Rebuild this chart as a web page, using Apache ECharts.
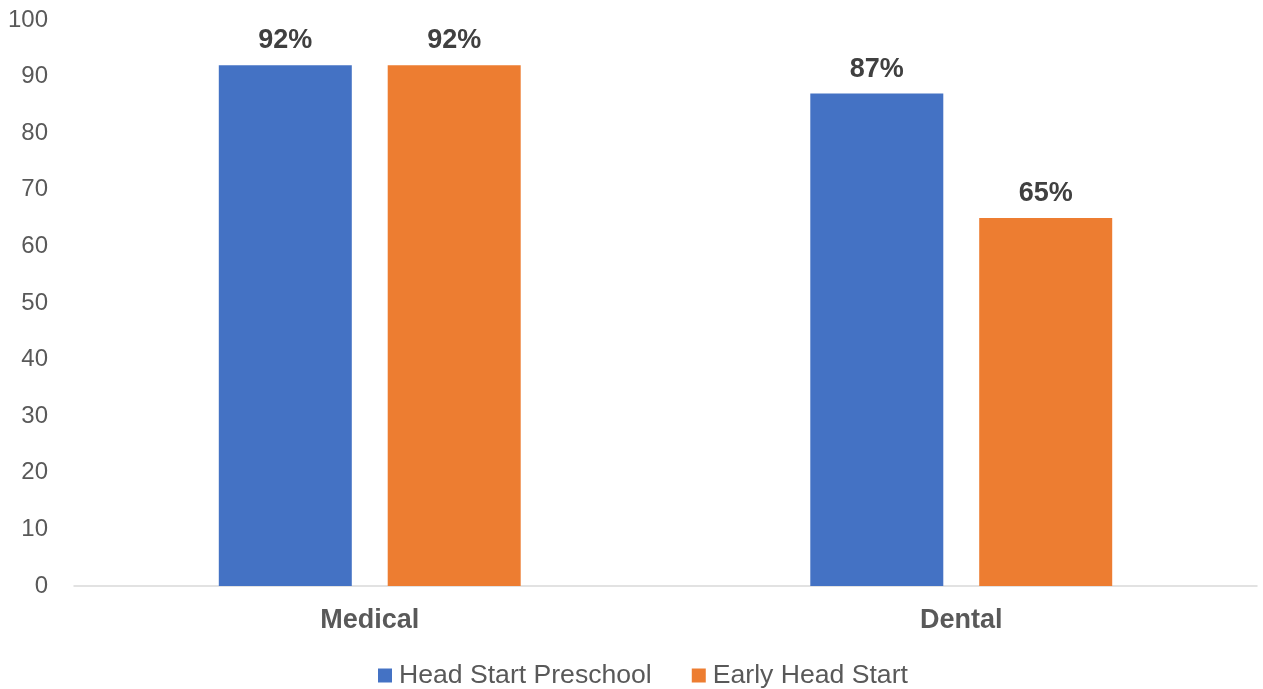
<!DOCTYPE html>
<html>
<head>
<meta charset="utf-8">
<script src="https://cdn.jsdelivr.net/npm/echarts@6/dist/echarts.min.js"></script>
<style>html,body{margin:0;padding:0;background:#fff;}#c{width:1263px;height:689px;}</style>
</head>
<body>
<div id="c"></div>
<script>
var categories = ['Medical', 'Dental'];
var headStartPreschool = [92, 87];
var earlyHeadStart = [92, 65];
var seriesNames = ['Head Start Preschool', 'Early Head Start'];

var chart = echarts.init(document.getElementById('c'), null, {renderer: 'canvas'});
var font = 'Liberation Sans, Arial, sans-serif';
var labelCfg = {
  show: true, position: 'top', distance: 11,
  formatter: function (p) { return p.value + '%'; },
  fontFamily: font, fontSize: 27, fontWeight: 'bold', color: '#404040'
};
chart.setOption({
  animation: false,
  grid: {left: 74, right: 6, top: 20, bottom: 103, containLabel: false},
  legend: {
    top: 662, left: 378, itemWidth: 14, itemHeight: 14, itemGap: 40,
    icon: 'rect', padding: 0,
    textStyle: {fontFamily: font, fontSize: 26.6, color: '#595959', padding: [0, 0, 0, 2]},
    data: seriesNames
  },
  xAxis: {
    type: 'category', data: categories,
    axisLine: {lineStyle: {color: '#d9d9d9', width: 1.5}},
    axisTick: {show: false},
    axisLabel: {fontFamily: font, fontSize: 27, fontWeight: 'bold', color: '#595959', margin: 21}
  },
  yAxis: {
    type: 'value', min: 0, max: 100, interval: 10,
    splitLine: {show: false},
    axisLine: {show: false}, axisTick: {show: false},
    axisLabel: {fontFamily: font, fontSize: 24, color: '#595959', margin: 26}
  },
  series: [
    {name: seriesNames[0], type: 'bar', data: headStartPreschool, barWidth: 133, barGap: '27%',
     itemStyle: {color: '#4472c4'}, label: labelCfg},
    {name: seriesNames[1], type: 'bar', data: earlyHeadStart, barWidth: 133,
     itemStyle: {color: '#ed7d31'}, label: labelCfg}
  ]
});
</script>
</body>
</html>
